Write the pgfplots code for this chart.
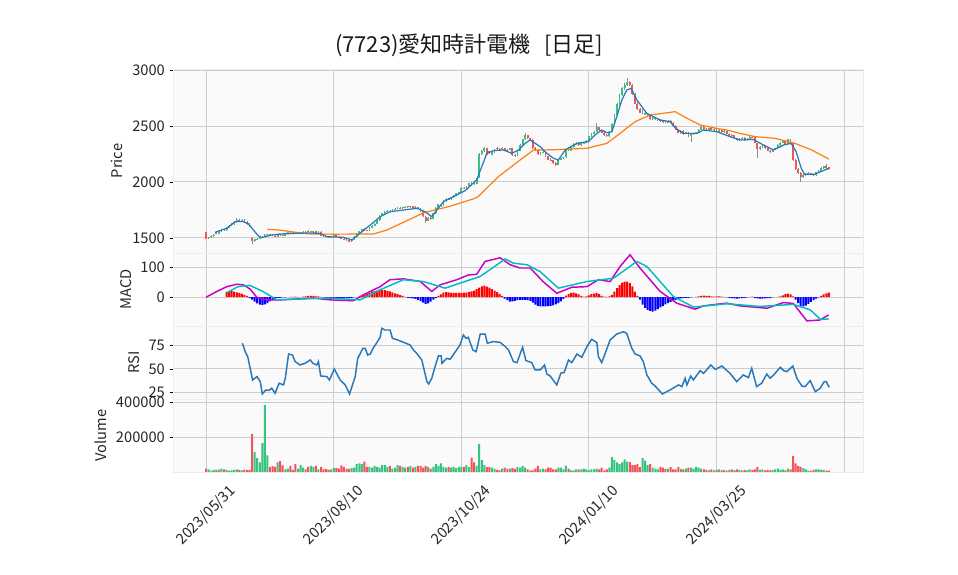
\documentclass[border=0pt]{standalone}
\usepackage{fontspec}
\setmainfont{Noto Sans CJK JP}
\usepackage{pgfplots}
\usepackage{pgfplotstable}
\pgfplotsset{compat=1.18}

\definecolor{upc}{RGB}{56,194,128}
\definecolor{dnc}{RGB}{245,82,90}
\definecolor{wick}{RGB}{140,140,140}
\definecolor{bgc}{RGB}{250,250,250}
\definecolor{gridc}{RGB}{205,205,205}
\definecolor{maFive}{RGB}{40,120,185}
\definecolor{maTwentyFive}{RGB}{255,127,14}
\definecolor{macdc}{RGB}{200,0,200}
\definecolor{sigc}{RGB}{0,190,190}

% daily bars: index, open, high, low, close, volume, MACD histogram
\pgfplotstableread{
i o h l c v hs
0 1550 1555 1488 1495 19000 0
1 1500 1512 1495 1505 15000 0
2 1505 1525 1500 1520 8000 0
3 1518 1535 1512 1530 12000 0
4 1550 1555 1535 1540 12000 0
5 1540 1565 1538 1560 14000 0
6 1560 1580 1555 1575 20000 0
7 1578 1582 1562 1568 15000 0
8 1570 1595 1565 1590 12000 17
9 1592 1615 1588 1610 8000 19
10 1612 1632 1605 1625 10000 20
11 1625 1648 1620 1640 12000 18
12 1642 1676 1638 1662 15000 16
13 1662 1668 1645 1650 12000 14
14 1650 1672 1645 1665 10000 11
15 1665 1670 1635 1640 14000 8
16 1640 1648 1618 1622 12000 4
17 1625 1630 1600 1608 12000 -3
18 1500 1505 1446 1470 217000 -8
19 1472 1495 1468 1490 114000 -15
20 1490 1502 1485 1495 80000 -21
21 1495 1510 1490 1505 55000 -25
22 1502 1518 1498 1512 165000 -26
23 1510 1535 1505 1528 383000 -24
24 1525 1540 1520 1532 95000 -20
25 1535 1540 1520 1525 28000 -14
26 1528 1532 1515 1520 33000 -9
27 1522 1525 1508 1512 30000 -5
28 1512 1535 1510 1530 55000 -2
29 1535 1540 1520 1524 62000 -2
30 1528 1532 1515 1520 38000 -1
31 1520 1542 1518 1540 15000 -1
32 1540 1565 1538 1560 20000 0
33 1560 1565 1548 1552 35000 1
34 1552 1556 1540 1545 12000 1
35 1548 1552 1536 1540 45000 2
36 1540 1555 1538 1550 20000 1
37 1540 1555 1536 1548 40000 0
38 1548 1560 1545 1556 25000 2
39 1556 1560 1545 1550 15000 3
40 1562 1568 1550 1555 30000 4
41 1555 1565 1550 1562 35000 4
42 1552 1565 1548 1558 30000 4
43 1560 1565 1545 1548 35000 3
44 1548 1562 1545 1558 15000 3
45 1555 1558 1518 1522 30000 1
46 1522 1530 1512 1518 15000 -1
47 1515 1522 1505 1510 18000 -2
48 1510 1515 1500 1505 12000 -2
49 1505 1520 1502 1515 15000 -3
50 1515 1530 1512 1526 22000 -3
51 1526 1530 1508 1512 22000 -3
52 1512 1518 1498 1502 20000 -4
53 1502 1506 1490 1495 38000 -4
54 1495 1500 1484 1488 30000 -4
55 1488 1492 1475 1480 20000 -3
56 1480 1485 1462 1468 18000 -3
57 1470 1495 1466 1490 22000 -2
58 1490 1515 1486 1510 25000 -1
59 1512 1545 1508 1540 45000 0
60 1540 1565 1535 1560 50000 2
61 1560 1582 1555 1576 45000 5
62 1578 1585 1565 1570 60000 8
63 1570 1575 1560 1565 30000 12
64 1565 1595 1562 1590 30000 15
65 1590 1615 1585 1610 25000 18
66 1610 1630 1605 1625 35000 20
67 1628 1665 1622 1660 30000 22
68 1660 1705 1655 1700 25000 23
69 1700 1725 1695 1720 40000 24
70 1720 1740 1715 1735 40000 23
71 1735 1748 1730 1742 30000 21
72 1745 1752 1735 1740 35000 19
73 1740 1760 1738 1755 20000 16
74 1755 1765 1748 1760 25000 13
75 1762 1775 1755 1770 40000 10
76 1770 1774 1758 1764 35000 7
77 1764 1780 1760 1775 30000 4
78 1775 1785 1770 1780 25000 1
79 1782 1786 1770 1774 30000 -2
80 1774 1790 1770 1785 35000 -3
81 1785 1790 1765 1770 25000 -4
82 1770 1782 1765 1776 30000 -6
83 1776 1780 1755 1760 35000 -9
84 1760 1765 1735 1740 35000 -13
85 1740 1745 1685 1692 25000 -18
86 1690 1698 1637 1652 35000 -22
87 1655 1685 1650 1680 30000 -21
88 1680 1690 1665 1670 20000 -15
89 1670 1725 1668 1720 30000 -8
90 1720 1775 1715 1770 45000 -3
91 1770 1805 1765 1800 35000 4
92 1785 1810 1780 1795 50000 9
93 1795 1835 1790 1830 30000 15
94 1830 1855 1825 1850 25000 17
95 1852 1858 1840 1845 30000 16
96 1845 1870 1842 1865 25000 14
97 1865 1885 1860 1880 30000 14
98 1880 1905 1875 1900 22000 14
99 1900 1915 1895 1910 30000 14
100 1910 1955 1905 1950 30000 14
101 1950 1958 1935 1940 30000 15
102 1940 1965 1935 1960 40000 15
103 1960 1995 1955 1990 30000 17
104 1995 2000 1980 1985 83000 19
105 1988 1992 1975 1980 55000 22
106 1982 2035 1978 2030 35000 27
107 2040 2255 2035 2250 162000 32
108 2250 2290 2240 2280 68000 36
109 2280 2315 2270 2300 40000 38
110 2300 2305 2245 2250 28000 35
111 2275 2280 2250 2262 28000 32
112 2245 2275 2238 2268 25000 27
113 2268 2295 2262 2290 20000 22
114 2305 2310 2290 2298 12000 17
115 2298 2302 2285 2292 10000 11
116 2292 2310 2288 2305 20000 4
117 2305 2308 2285 2290 25000 -5
118 2290 2298 2280 2285 18000 -10
119 2285 2305 2282 2300 20000 -15
120 2300 2302 2235 2240 22000 -14
121 2240 2250 2225 2232 18000 -12
122 2235 2285 2230 2280 28000 -10
123 2280 2335 2275 2330 25000 -9
124 2330 2385 2325 2380 35000 -9
125 2380 2437 2375 2418 25000 -9
126 2418 2422 2385 2390 15000 -10
127 2390 2395 2370 2378 10000 -12
128 2378 2380 2295 2300 10000 -18
129 2300 2310 2280 2290 20000 -25
130 2290 2295 2245 2250 35000 -29
131 2250 2268 2245 2262 15000 -31
132 2262 2275 2255 2270 20000 -31
133 2270 2272 2225 2230 15000 -31
134 2230 2235 2195 2200 25000 -30
135 2200 2210 2185 2192 25000 -29
136 2192 2195 2165 2170 15000 -27
137 2170 2175 2143 2150 15000 -24
138 2155 2205 2150 2200 25000 -20
139 2200 2215 2195 2210 25000 -14
140 2210 2225 2205 2220 15000 -6
141 2220 2295 2215 2290 35000 5
142 2290 2298 2275 2280 20000 10
143 2280 2315 2275 2310 10000 14
144 2310 2345 2305 2340 10000 15
145 2340 2358 2335 2350 15000 13
146 2350 2355 2325 2330 15000 9
147 2330 2350 2325 2345 15000 4
148 2345 2358 2340 2350 20000 1
149 2350 2375 2345 2370 15000 3
150 2370 2415 2365 2410 10000 6
151 2410 2435 2405 2430 15000 10
152 2430 2455 2425 2450 15000 12
153 2450 2527 2445 2490 20000 14
154 2490 2495 2455 2460 15000 10
155 2460 2465 2435 2440 25000 4
156 2440 2445 2415 2420 10000 2
157 2420 2425 2400 2410 15000 1
158 2410 2455 2405 2450 25000 3
159 2450 2530 2445 2520 85000 8
160 2525 2610 2520 2600 70000 18
161 2600 2705 2595 2700 55000 30
162 2700 2790 2690 2780 45000 40
163 2780 2850 2770 2840 55000 48
164 2840 2880 2825 2870 72000 52
165 2870 2925 2860 2895 60000 52
166 2895 2905 2860 2870 57000 47
167 2870 2875 2780 2790 40000 36
168 2790 2795 2695 2700 40000 18
169 2700 2710 2640 2650 45000 4
170 2650 2660 2615 2620 28000 -8
171 2615 2650 2610 2640 80000 -25
172 2600 2625 2595 2615 65000 -36
173 2590 2605 2580 2598 40000 -42
174 2598 2600 2550 2560 45000 -46
175 2560 2580 2555 2575 25000 -48
176 2560 2575 2550 2568 18000 -45
177 2555 2570 2545 2562 15000 -40
178 2562 2565 2540 2548 30000 -34
179 2548 2552 2530 2540 25000 -30
180 2545 2548 2528 2535 18000 -24
181 2530 2550 2525 2545 20000 -20
182 2548 2552 2525 2530 28000 -16
183 2530 2535 2495 2500 15000 -12
184 2500 2505 2460 2465 15000 -9
185 2465 2470 2435 2440 30000 -6
186 2440 2460 2432 2455 18000 -4
187 2455 2462 2420 2430 15000 -3
188 2430 2448 2425 2442 20000 -2
189 2442 2445 2400 2410 25000 -2
190 2410 2432 2360 2425 25000 -1
191 2425 2440 2420 2435 20000 0
192 2435 2450 2428 2445 30000 1
193 2445 2470 2440 2465 25000 3
194 2465 2509 2460 2495 20000 4
195 2495 2498 2465 2470 15000 5
196 2470 2480 2455 2462 12000 4
197 2462 2485 2458 2480 10000 4
198 2480 2484 2460 2465 15000 3
199 2465 2478 2455 2472 10000 2
200 2472 2476 2445 2450 12000 3
201 2450 2470 2445 2465 15000 3
202 2465 2468 2440 2445 10000 2
203 2445 2462 2440 2455 12000 1
204 2455 2458 2425 2430 8000 -1
205 2430 2435 2405 2410 12000 -2
206 2410 2428 2405 2420 15000 -3
207 2420 2422 2385 2390 10000 -4
208 2390 2395 2365 2372 15000 -5
209 2372 2390 2368 2385 12000 -4
210 2385 2400 2380 2395 10000 -3
211 2395 2398 2370 2375 12000 -2
212 2375 2392 2372 2388 10000 -1
213 2388 2410 2385 2405 15000 1
214 2405 2412 2392 2398 12000 2
215 2398 2400 2345 2350 15000 -2
216 2350 2352 2215 2295 30000 -4
217 2295 2318 2290 2312 12000 -5
218 2312 2328 2305 2320 15000 -5
219 2320 2322 2295 2300 10000 -4
220 2300 2305 2275 2280 12000 -3
221 2280 2285 2262 2270 10000 -2
222 2270 2295 2265 2290 12000 -1
223 2290 2305 2285 2300 15000 0
224 2300 2335 2298 2330 20000 1
225 2330 2355 2325 2350 12000 3
226 2350 2372 2345 2362 15000 6
227 2362 2365 2338 2342 10000 10
228 2342 2388 2340 2380 20000 12
229 2380 2385 2340 2345 15000 9
230 2345 2350 2190 2200 93000 3
231 2200 2205 2110 2120 50000 -8
232 2120 2125 2070 2080 35000 -20
233 2080 2085 2003 2045 30000 -30
234 2045 2070 2040 2062 22000 -31
235 2062 2080 2050 2072 15000 -28
236 2072 2085 2062 2078 8000 -22
237 2078 2082 2058 2065 8000 -16
238 2065 2070 2050 2058 12000 -10
239 2058 2090 2055 2085 15000 -5
240 2085 2105 2080 2100 15000 -1
241 2100 2130 2095 2125 12000 4
242 2125 2145 2118 2140 12000 9
243 2145 2160 2118 2122 8000 13
244 2130 2135 2105 2112 8000 15
}\daily

\pgfplotsset{
  panel/.style={
    scale only axis, width=517.5pt, at={(129.75pt,#1)}, anchor=south west,
    xmin=-13, xmax=257.4,
    axis background/.style={fill=bgc},
    axis line style={draw=gridc!35},
    xmajorgrids, ymajorgrids,
    major grid style={gridc, line width=0.75pt},
    xtick={0,50,100,150,200,250},
    xticklabels={},
    ytick pos=left, xtick pos=bottom, tick align=outside,
    major tick length=2.6pt,
    ytick style={black, line width=0.6pt},
    xtick style={draw=none},
    ticklabel style={font=\fontsize{11}{13}\selectfont, text=black!85},
    /pgf/number format/assume math mode=true,
    /pgf/number format/set thousands separator={},
    scaled y ticks=false,
    ylabel style={font=\fontsize{11}{13}\selectfont, text=black!85},
  },
  candle/.style={quiver={u=0, v=\thisrow{c}-\thisrow{o}}, -, line width=1.4pt, #1},
  volbar/.style={ybar, bar width=1.5pt, bar shift=0pt, fill=#1, draw=none},
}

\begin{document}
\begin{tikzpicture}
\path[use as bounding box] (0,0) rectangle (718.5pt,431.25pt);

\node[font=\fontsize{16.5}{19}\selectfont, text=black!90] at (351.75pt,397.5pt)
  {(7723)愛知時計電機\hspace{0.6em}[日足]};

% price
\begin{axis}[panel=241.5pt, height=138pt,
  ymin=1366, ymax=3009, ytick={1500,2000,2500,3000}, ylabel={Price}]
\addplot[quiver={u=0, v=\thisrow{h}-\thisrow{l}}, -, wick, line width=0.55pt]
  table[x=i, y=l] {\daily};
\addplot[candle=upc, restrict expr to domain={\thisrow{c}-\thisrow{o}}{0.5:100000}]
  table[x=i, y=o] {\daily};
\addplot[candle=dnc, restrict expr to domain={\thisrow{c}-\thisrow{o}}{-100000:-0.5}]
  table[x=i, y=o] {\daily};
\addplot[maTwentyFive, line width=0.9pt] coordinates {
(24,1578) (29,1570) (37,1545) (41,1536) (50,1534) (65.6,1536) (70.8,1571)
(77.3,1640) (82,1690) (85.2,1725) (95,1780) (105.4,1854) (106.6,1870)
(114.5,2048) (123,2196) (128.3,2285) (136.2,2288) (149.2,2301) (157,2345)
(162.2,2434) (168.1,2539) (174,2598) (183.8,2628) (188.4,2569) (193.6,2509)
(200,2479) (205.3,2458) (209.2,2434) (215.1,2405) (222.9,2390) (230.7,2345)
(237.3,2286) (244,2205)
};
\addplot[maFive, line width=0.9pt] coordinates {
(3.5,1551) (8,1587) (11.4,1646) (14.6,1646) (16.6,1625) (18.5,1571) (20.5,1518)
(21.8,1503) (25.1,1524) (29,1536) (36.8,1542) (42,1545) (44.7,1539) (47.3,1512)
(53.8,1506) (57.1,1482) (60.3,1542) (64.3,1616) (68.2,1690) (72.1,1735)
(77.3,1750) (82.6,1765) (85.8,1735) (88.4,1690) (90.4,1750) (93,1824)
(96.9,1869) (101.5,1923) (106,2018) (108,2137) (110,2256) (112.6,2280)
(116.5,2286) (119.8,2256) (122.4,2286) (125,2345) (127,2375) (130.9,2315)
(133.5,2256) (136.1,2212) (138,2196) (140.7,2286) (143.9,2330) (146.6,2351)
(149.8,2360) (152.4,2420) (155,2464) (157,2440) (159,2449) (160.9,2583)
(162.9,2732) (164.8,2821) (166.5,2836) (168.8,2732) (172.7,2613) (175.3,2583)
(177.9,2554) (181.8,2539) (184,2479) (187,2434) (192.3,2434) (194.9,2464)
(200.1,2449) (205.3,2405) (209.2,2375) (214.4,2380) (218.4,2330) (222.3,2286)
(226.2,2330) (229.2,2345) (231.2,2271) (233.2,2122) (234.5,2069) (238.4,2069)
(244,2122)
};
\end{axis}

% MACD
\begin{axis}[panel=186.75pt, height=54.75pt,
  ymin=-96, ymax=147, ytick={0,100}, ylabel={MACD}]
\addplot[volbar=red, restrict y to domain=0.001:1000] table[x=i, y=hs] {\daily};
\addplot[volbar=blue, restrict y to domain=-1000:-0.001] table[x=i, y=hs] {\daily};
\addplot[macdc, line width=1.1pt] coordinates {
(0,0) (4.2,19) (8.1,35) (12,43) (14.6,41) (17.2,27) (19.9,-1) (23.8,-9) (29,-9)
(42,-3) (48.6,-9) (57.7,-12) (61.6,8) (68.2,35) (72,58) (77.3,61) (83.9,52)
(88.4,19) (91.7,41) (98.2,58) (102.8,74) (106,76) (109.3,119) (115.2,131)
(119.1,108) (123,97) (127,97) (132,52) (137.4,13) (143.3,33) (149.2,35)
(153.7,58) (158.3,52) (162.2,102) (166.1,141) (170,97) (177.9,19) (184.4,-20)
(191.6,-40) (194.9,-29) (204,-20) (209.2,-29) (219.7,-37) (226.2,-18)
(230.1,-21) (235.4,-79) (240.6,-76) (243.9,-59)
};
\addplot[sigc, line width=1.1pt] coordinates {
(8.1,15) (12.5,35) (17.2,39) (22,20) (27.7,-9) (47.3,-3) (60.3,-9) (68,24)
(77.3,58) (85.1,52) (93.6,30) (107.4,69) (117.2,127) (120.4,113) (125.7,108)
(130.9,85) (138,30) (149.2,52) (159.6,63) (168.8,119) (172.7,102) (183.1,2)
(191,-33) (204,-22) (217.1,-31) (230.1,-24) (236.7,-42) (240.6,-73) (243.9,-73)
};
\end{axis}

% RSI
\begin{axis}[panel=132pt, height=54.75pt,
  ymin=17.8, ymax=96.1, ytick={25,50,75}, ylabel={RSI}]
\addplot[maFive, line width=1.1pt] coordinates {
(14.2,77.6) (15.3,68.6) (16.3,63) (18.2,38.2) (19.9,41.8) (21.2,36.4) (22,23.2)
(23.4,27.5) (24.5,27) (25.7,29.3) (27,23.9) (28.6,34.7) (30.3,32.9) (31,40)
(32.3,66.1) (33.8,65) (34.9,57.9) (36.8,54.3) (38.8,56.1) (40.8,59.7) (41.8,56.1)
(43.4,54.3) (44,57.9) (44.9,42.5) (47.3,41.8) (48.3,38.2) (50.2,50) (52.5,38.2)
(54.5,32.9) (56.2,23.2) (58.4,41.8) (59.4,61.4) (61.4,72.2) (62.3,72.2)
(63.3,65) (64.3,66.1) (65.4,72.2) (66.3,75.8) (68.2,84) (68.8,93.6) (70,91.8)
(72.1,91.8) (73,82.8) (74.5,81.7) (79.9,75.8) (81.2,70.4) (82.5,66.8)
(84.5,59.7) (86.5,36.4) (87.2,33.9) (88.4,40) (89.7,52.5) (91,64) (92.1,64)
(92.4,56.1) (94.3,61.4) (95.6,60.4) (99.5,75.8) (100.8,86.5) (101.8,82.8)
(102.7,84) (104.5,70.4) (105.8,68.6) (107.4,87.5) (109.3,87.5) (110.2,77.6)
(112.6,79.4) (115.2,78.5) (117.2,74) (118.5,70.4) (120.4,57.9) (121.8,56.8)
(124,73.3) (125.3,59) (127.6,56.8) (128.9,49) (130.9,49) (132.6,54.3)
(133.5,44.6) (134.8,42.5) (137.4,32.9) (139,45.6) (140.3,46.3) (142,59.7)
(143.3,56.8) (145.3,66.1) (147.2,62.5) (149.2,74) (151.1,81.9) (153.1,78.3)
(153.7,63.3) (155,56.8) (158.3,81.1) (160.9,87.5) (163.5,90) (164.8,88.2)
(166.8,72.2) (168.1,66.1) (170,64) (171.3,57.9) (172.7,43.6) (174.6,34.7)
(175.9,31.8) (178.8,23.2) (181.8,27.5) (185.1,32.9) (186.4,31.1) (187.7,40)
(188.4,32.9) (189.9,42.5) (190.9,38.2) (193.6,48.2) (194.9,45.3) (197.8,54.3)
(199.5,49.6) (202.1,53.2) (205.3,45.3) (207.9,36.4) (210.5,43.6) (212.5,40.7)
(213.8,50.7) (215.7,31.1) (217.7,34.7) (219.7,44.6) (221,40) (222.4,43.6)
(225,51.8) (226.3,48.2) (227.6,47.1) (229.9,53.2) (231.5,40) (233.4,31.8)
(234.7,31.1) (236.7,37.5) (238.7,25.7) (240.6,29.3) (242.2,36.4) (243,36.4)
(244.2,30.3)
};
\end{axis}

% volume
\begin{axis}[panel=77.25pt, height=54.75pt,
  ymin=0, ymax=418857, ytick={200000,400000}, yticklabels={200000,400000},
  ylabel={Volume},
  xtick style={black, line width=0.6pt},
  xticklabels={2023/05/31,2023/08/10,2023/10/24,2024/01/10,2024/03/25,{}},
  xticklabel style={anchor=center, yshift=-30pt, rotate=45}]
\addplot[volbar=upc, restrict expr to domain={\thisrow{c}-\thisrow{o}}{0:100000}]
  table[x=i, y=v] {\daily};
\addplot[volbar=dnc, restrict expr to domain={\thisrow{c}-\thisrow{o}}{-100000:-0.5}]
  table[x=i, y=v] {\daily};
\end{axis}
\end{tikzpicture}
\end{document}
